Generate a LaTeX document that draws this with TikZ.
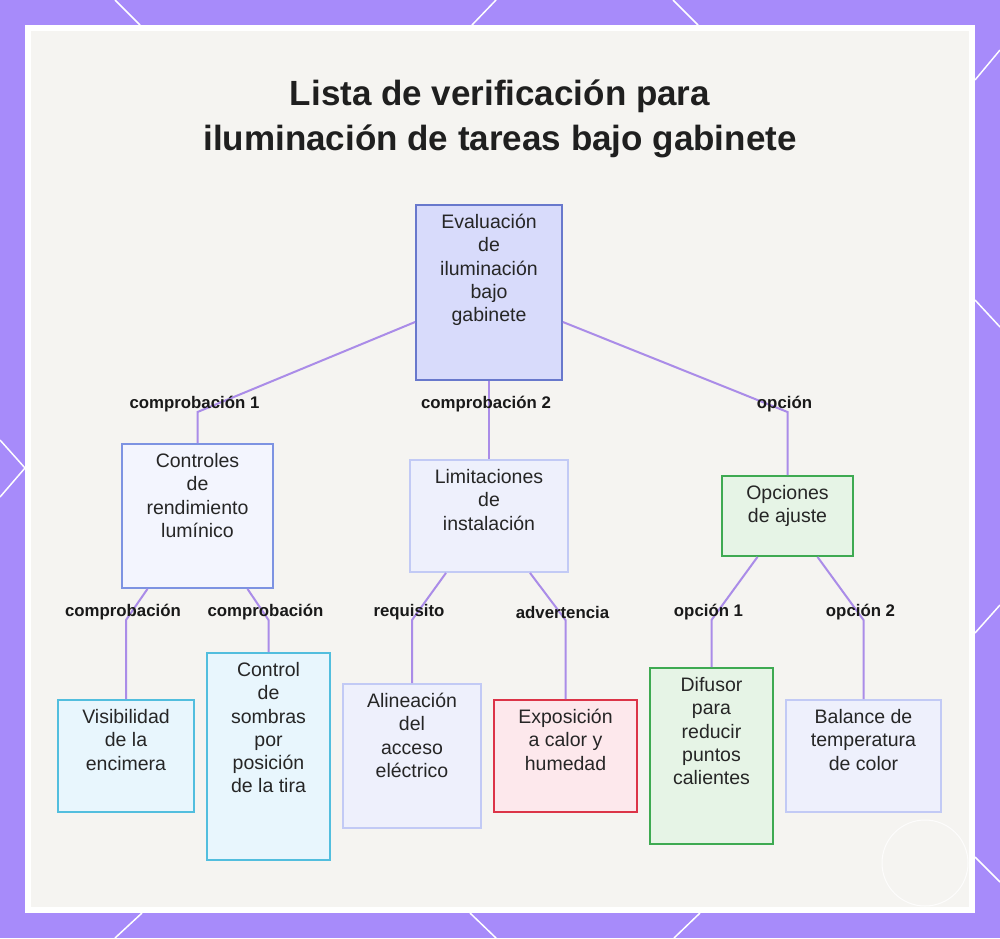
\documentclass[tikz,border=0pt]{standalone}
\usepackage{fontspec}
\setmainfont{Liberation Sans}
\usepackage{tikz}
\usetikzlibrary{positioning, calc}

\definecolor{frame}{RGB}{167,139,250}
\definecolor{panel}{RGB}{245,244,241}
\definecolor{wire}{RGB}{170,140,232}
\definecolor{rootfill}{RGB}{216,219,251}
\definecolor{rootline}{RGB}{104,120,204}
\definecolor{bluefill}{RGB}{243,245,254}
\definecolor{blueline}{RGB}{125,147,226}
\definecolor{palefill}{RGB}{238,240,252}
\definecolor{paleline}{RGB}{194,202,245}
\definecolor{greenfill}{RGB}{230,244,230}
\definecolor{greenline}{RGB}{62,170,82}
\definecolor{cyanfill}{RGB}{232,246,253}
\definecolor{cyanline}{RGB}{82,190,222}
\definecolor{redfill}{RGB}{253,232,236}
\definecolor{redline}{RGB}{220,52,72}

\begin{document}
\begin{tikzpicture}[
  x=1pt, y=-1pt,
  card/.style={rectangle, draw, line width=1.8pt},
  cardtext/.style={anchor=north, yshift=-10pt, inner sep=0pt, align=center,
    font=\fontsize{19.5}{23.3}\selectfont, text=black!85},
  edge/.style={draw=wire, line width=2pt},
  tag/.style={xshift=-3pt, yshift=8pt, inner sep=1pt,
    font=\fontsize{16.8}{19}\bfseries, text=black!90},
  deco/.style={draw=white, line width=1.5pt}
]
\useasboundingbox (0,0) rectangle (1000,938);

% frame and panel
\fill[frame] (0,0) rectangle (1000,938);
\draw[deco] (115,0) -- (140,25);
\draw[deco] (496,0) -- (472,25);
\draw[deco] (673,0) -- (698,25);
\draw[deco] (975,80) -- (1000,50);
\draw[deco] (975,300) -- (1000,327);
\draw[deco] (975,633) -- (1000,605);
\draw[deco] (975,857) -- (1000,882);
\draw[deco] (0,440) -- (25,468) -- (0,497);
\draw[deco] (142,913) -- (115,938);
\draw[deco] (470,913) -- (496,938);
\draw[deco] (700,913) -- (674,938);
\fill[white] (25,25) rectangle (975,913);
\fill[panel] (31,31) rectangle (969,907);
\draw[white, line width=1pt, opacity=.8] (925,863) circle (43);

% title
\node[align=center, font=\fontsize{35}{45}\bfseries, text=black!88] (title) at (500,119)
  {Lista de verificación para\\iluminación de tareas bajo gabinete};

% boxes
\node[card, fill=rootfill, draw=rootline, minimum width=146, minimum height=175,
  label={[cardtext]north:{Evaluación\\de\\iluminación\\bajo\\gabinete}}] (eval) at (489,292.5) {};
\node[card, fill=bluefill, draw=blueline, minimum width=151, minimum height=144,
  label={[cardtext]north:{Controles\\de\\rendimiento\\lumínico}}] (perf) at (197.5,516) {};
\node[card, fill=palefill, draw=paleline, minimum width=158, minimum height=112,
  label={[cardtext]north:{Limitaciones\\de\\instalación}}] (limit) at (489,516) {};
\node[card, fill=greenfill, draw=greenline, minimum width=131, minimum height=80,
  label={[cardtext]north:{Opciones\\de ajuste}}] (adjust) at (787.5,516) {};
\node[card, fill=cyanfill, draw=cyanline, minimum width=136, minimum height=112,
  label={[cardtext]north:{Visibilidad\\de la\\encimera}}] (counter) at (126,756) {};
\node[card, fill=cyanfill, draw=cyanline, minimum width=123, minimum height=207,
  label={[cardtext]north:{Control\\de\\sombras\\por\\posición\\de la tira}}] (shadow) at (268.5,756.5) {};
\node[card, fill=palefill, draw=paleline, minimum width=138, minimum height=144,
  label={[cardtext]north:{Alineación\\del\\acceso\\eléctrico}}] (power) at (412,756) {};
\node[card, fill=redfill, draw=redline, minimum width=143, minimum height=112,
  label={[cardtext]north:{Exposición\\a calor y\\humedad}}] (heat) at (565.5,756) {};
\node[card, fill=greenfill, draw=greenline, minimum width=123, minimum height=176,
  label={[cardtext]north:{Difusor\\para\\reducir\\puntos\\calientes}}] (diffuser) at (711.5,756) {};
\node[card, fill=palefill, draw=paleline, minimum width=155, minimum height=112,
  label={[cardtext]north:{Balance de\\temperatura\\de color}}] (tone) at (863.5,756) {};

% bends
\coordinate (b1) at (197.5,412);
\coordinate (b2) at (489,412);
\coordinate (b3) at (787.5,412);
\coordinate (b4) at (126,620);
\coordinate (b5) at (268.5,620);
\coordinate (b6) at (412,620);
\coordinate (b7) at (565.5,620);
\coordinate (b8) at (711.5,620);
\coordinate (b9) at (863.5,620);

% connectors
\draw[edge] ([yshift=-29.5pt]eval.west) -- (b1) -- (perf.north);
\draw[edge] (eval.south) -- (b2) -- (limit.north);
\draw[edge] ([yshift=-29.5pt]eval.east) -- (b3) -- (adjust.north);
\draw[edge] ([xshift=-50pt]perf.south) -- (b4) -- (counter.north);
\draw[edge] ([xshift=50pt]perf.south) -- (b5) -- (shadow.north);
\draw[edge] ([xshift=-43pt]limit.south) -- (b6) -- (power.north);
\draw[edge] ([xshift=41pt]limit.south) -- (b7) -- (heat.north);
\draw[edge] ([xshift=-30pt]adjust.south) -- (b8) -- (diffuser.north);
\draw[edge] ([xshift=30pt]adjust.south) -- (b9) -- (tone.north);

% connector labels
\node[tag] (t1) at (b1) {comprobación 1};
\node[tag] (t2) at (b2) {comprobación 2};
\node[tag] (t3) at (b3) {opción};
\node[tag] (t4) at (b4) {comprobación};
\node[tag] (t5) at (b5) {comprobación};
\node[tag] (t6) at (b6) {requisito};
\node[tag] (t7) at (b7) {advertencia};
\node[tag] (t8) at (b8) {opción 1};
\node[tag] (t9) at (b9) {opción 2};

\end{tikzpicture}
\end{document}
